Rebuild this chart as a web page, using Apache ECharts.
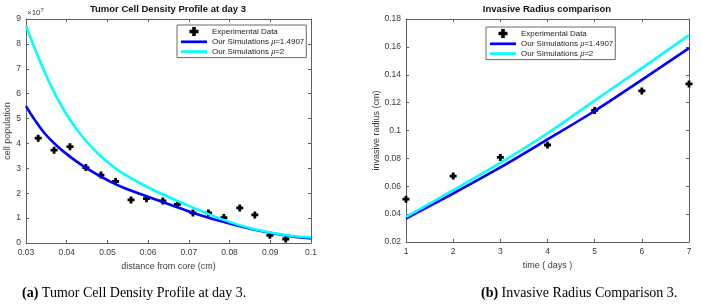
<!DOCTYPE html>
<html><head><meta charset="utf-8">
<script src="https://cdn.jsdelivr.net/npm/echarts/dist/echarts.min.js"></script>
<style>html,body{margin:0;padding:0;background:#fff}#c{width:702px;height:307px}</style>
</head><body><div id="c"></div>
<script>
// ---- Data: (a) Tumor cell density profile at day 3 (cell population in units of 1e7) ----
const densityExpX = [0.0330, 0.0369, 0.0408, 0.0447, 0.0484, 0.0520, 0.0558, 0.0596, 0.0636, 0.0672, 0.0710, 0.0748, 0.0786, 0.0825, 0.0862, 0.0899, 0.0938];
const densityExpY = [4.21, 3.73, 3.87, 3.03, 2.73, 2.47, 1.73, 1.78, 1.69, 1.55, 1.21, 1.21, 1.02, 1.41, 1.13, 0.31, 0.16];
const densitySimAX = [0.0300, 0.0320, 0.0345, 0.0371, 0.0404, 0.0437, 0.0470, 0.0502, 0.0540, 0.0613, 0.0695, 0.0777, 0.0859, 0.0941, 0.1000];
const densitySimAY = [5.50, 4.98, 4.42, 3.98, 3.52, 3.13, 2.80, 2.51, 2.22, 1.78, 1.30, 0.88, 0.54, 0.29, 0.18];
const densitySimBX = [0.0300, 0.0322, 0.0347, 0.0371, 0.0404, 0.0437, 0.0470, 0.0502, 0.0540, 0.0613, 0.0695, 0.0777, 0.0859, 0.0941, 0.1000];
const densitySimBY = [8.73, 7.80, 6.82, 6.00, 5.05, 4.30, 3.70, 3.23, 2.78, 2.13, 1.53, 0.98, 0.56, 0.31, 0.22];
// ---- Data: (b) Invasive radius comparison ----
const days = [1, 2, 3, 4, 5, 6, 7];
const radiusExp = [0.0507, 0.0673, 0.0807, 0.0896, 0.1144, 0.1284, 0.1334];
const radiusSimA = [0.0368, 0.0548, 0.0735, 0.0936, 0.1140, 0.1363, 0.1591];
const radiusSimB = [0.0380, 0.0572, 0.0768, 0.0980, 0.1215, 0.1448, 0.1684];
// ---- Labels ----
const nameExp = 'Experimental Data';
const nameSimA = 'Our Simulations μ=1.4907';
const nameSimB = 'Our Simulations μ=2';

const FONT = '"Liberation Sans", Arial, Helvetica, sans-serif';
const SERIF = '"Liberation Serif", "Times New Roman", serif';
const axisColor = '#5e5e5e';
const labelColor = '#3a3a3a';
const BLUE = '#0000ff', CYAN = '#00ffff';
const PLUS = 'path://M3,0H7V3H10V7H7V10H3V7H0V3H3Z';
const LINEICON = 'path://M0,0H26V2.7H0Z';

const zip = (xs, ys) => xs.map((x, i) => [x, ys[i]]);
const fmt = v => String(+(+v).toFixed(3));

function mkAxis(gridIndex, position, min, max, interval, showLabel, name, nameGap) {
  return {
    type: 'value', gridIndex, position, min, max, interval,
    axisLine: { show: true, onZero: false, lineStyle: { color: axisColor, width: 1 } },
    axisTick: { show: true, inside: true, length: 3, lineStyle: { color: axisColor } },
    axisLabel: { show: showLabel, color: labelColor, fontSize: 8.5, fontFamily: FONT, margin: 5, formatter: fmt },
    splitLine: { show: false },
    name: name || '', nameLocation: 'middle', nameGap: nameGap || 10,
    nameTextStyle: { color: labelColor, fontSize: 9, fontFamily: FONT }
  };
}

function mkLegend(left, top) {
  return {
    orient: 'vertical', left, top, selectedMode: false,
    data: [
      { name: nameExp, icon: PLUS },
      { name: nameSimA, icon: LINEICON },
      { name: nameSimB, icon: LINEICON }
    ],
    symbolKeepAspect: true,
    itemWidth: 26, itemHeight: 9, itemGap: 1.8, itemTextGap: 2,
    padding: [2, 2, 2, 4],
    borderColor: '#444', borderWidth: 0.8, backgroundColor: '#fff',
    textStyle: { fontSize: 8, fontFamily: FONT, color: '#222',
      rich: { i: { fontSize: 8, fontFamily: '"Liberation Serif", serif', fontStyle: 'italic', color: '#222' } } },
    formatter: n => n.replace('μ', '{i|μ}')
  };
}

const option = {
  animation: false,
  backgroundColor: '#fff',
  title: [
    { text: 'Tumor Cell Density Profile at day 3', left: 168, top: 4, textAlign: 'center', padding: 0,
      textStyle: { fontSize: 9.5, fontWeight: 'bold', color: '#111', fontFamily: FONT } },
    { text: 'Invasive Radius comparison', left: 547, top: 4, textAlign: 'center', padding: 0,
      textStyle: { fontSize: 9.5, fontWeight: 'bold', color: '#111', fontFamily: FONT } }
  ],
  grid: [
    { left: 26, right: 391, top: 19, bottom: 64, containLabel: false },
    { left: 406, right: 13, top: 19, bottom: 65, containLabel: false }
  ],
  xAxis: [
    mkAxis(0, 'bottom', 0.03, 0.1, 0.01, true, 'distance from core (cm)', 17),
    mkAxis(0, 'top', 0.03, 0.1, 0.01, false),
    mkAxis(1, 'bottom', 1, 7, 1, true, 'time ( days )', 17),
    mkAxis(1, 'top', 1, 7, 1, false)
  ],
  yAxis: [
    mkAxis(0, 'left', 0, 9, 1, true, 'cell population', 12),
    mkAxis(0, 'right', 0, 9, 1, false),
    mkAxis(1, 'left', 0.02, 0.18, 0.02, true, 'invasive radius (cm)', 25),
    mkAxis(1, 'right', 0.02, 0.18, 0.02, false)
  ],
  legend: [mkLegend(177, 25), mkLegend(486, 27)],
  series: [
    { name: nameExp, type: 'scatter', xAxisIndex: 0, yAxisIndex: 0, symbol: PLUS, symbolSize: 7,
      itemStyle: { color: '#000', opacity: 1 }, data: zip(densityExpX, densityExpY) },
    { name: nameSimA, type: 'line', xAxisIndex: 0, yAxisIndex: 0, symbol: 'none', smooth: 0.4,
      lineStyle: { color: BLUE, width: 2.6 }, itemStyle: { color: BLUE }, data: zip(densitySimAX, densitySimAY) },
    { name: nameSimB, type: 'line', xAxisIndex: 0, yAxisIndex: 0, symbol: 'none', smooth: 0.4,
      lineStyle: { color: CYAN, width: 2.6 }, itemStyle: { color: CYAN }, data: zip(densitySimBX, densitySimBY) },
    { name: nameExp, type: 'scatter', xAxisIndex: 2, yAxisIndex: 2, symbol: PLUS, symbolSize: 7,
      itemStyle: { color: '#000', opacity: 1 }, data: zip(days, radiusExp) },
    { name: nameSimA, type: 'line', xAxisIndex: 2, yAxisIndex: 2, symbol: 'none', smooth: 0.3,
      lineStyle: { color: BLUE, width: 2.6 }, itemStyle: { color: BLUE }, data: zip(days, radiusSimA) },
    { name: nameSimB, type: 'line', xAxisIndex: 2, yAxisIndex: 2, symbol: 'none', smooth: 0.3,
      lineStyle: { color: CYAN, width: 2.6 }, itemStyle: { color: CYAN }, data: zip(days, radiusSimB) }
  ],
  graphic: [
    { type: 'text', left: 27, top: 9, style: { text: '×10', fontSize: 8, fontFamily: FONT, fill: labelColor } },
    { type: 'text', left: 40.5, top: 7, style: { text: '7', fontSize: 6, fontFamily: FONT, fill: labelColor } },
    { type: 'text', left: 22, top: 286, style: {
        text: '{b|(a)} Tumor Cell Density Profile at day 3.', fontSize: 14, fontFamily: SERIF, fill: '#000',
        rich: { b: { fontSize: 14, fontFamily: SERIF, fontWeight: 'bold', fill: '#000' } } } },
    { type: 'text', left: 481, top: 286, style: {
        text: '{b|(b)} Invasive Radius Comparison 3.', fontSize: 14, fontFamily: SERIF, fill: '#000',
        rich: { b: { fontSize: 14, fontFamily: SERIF, fontWeight: 'bold', fill: '#000' } } } }
  ]
};

const chart = echarts.init(document.getElementById('c'), null, { renderer: 'canvas' });
chart.setOption(option);
</script>
</body></html>
